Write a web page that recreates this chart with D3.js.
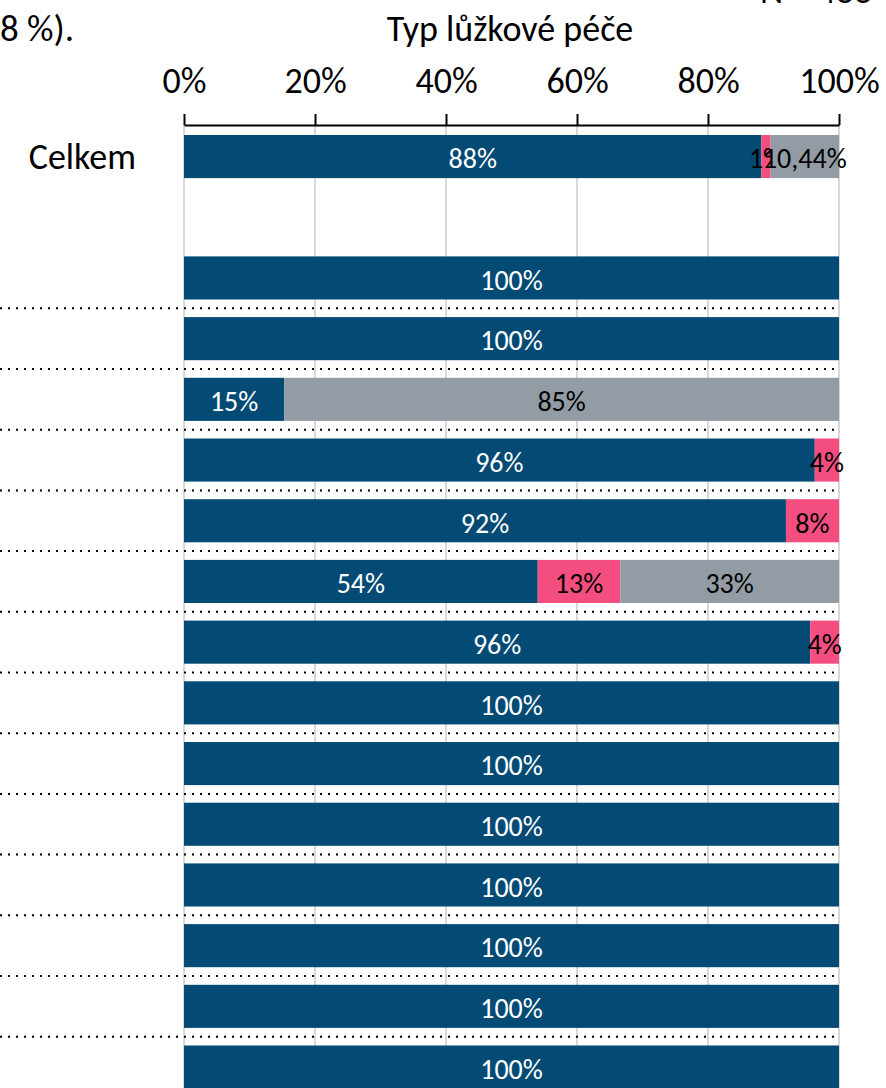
<!DOCTYPE html>
<html lang="cs">
<head>
    <meta charset="UTF-8">
    <title>Typ lůžkové péče</title>
    <script src="https://d3js.org/d3.v7.min.js"></script>
    <style>
        body{
            margin: 0;
            background: white;
        }
        svg text{
            font-family: Carlito, Calibri, Lato, sans-serif;
        }
        .grid line{
            stroke: #d9d9d9;
            stroke-width: 2px;
        }
        .dots{
            stroke: black;
            stroke-width: 2px;
            stroke-dasharray: 2 6;
        }
    </style>
</head>
<body>
    <svg id='canvas' width='886' height='1088'></svg>
    <script>
        // rows top to bottom; "" is the empty slot under Celkem
        let rows = ['Celkem', '', 'r1', 'r2', 'r3', 'r4', 'r5', 'r6', 'r7',
                    'r8', 'r9', 'r10', 'r11', 'r12', 'r13', 'r14'];
        let rowText = ['Celkem', '', '', '', '', '', '', '', '', '', '', '', '', '', '', ''];
        let series = ['blue', 'pink', 'grey'];
        let colors = ['#034a75', '#f44e80', '#939ca4'];
        let textColors = ['white', 'black', 'black'];

        let blueVals = [88.16, null, 100, 100, 15.3, 96.3, 91.9, 54, 95.6, 100, 100, 100, 100, 100, 100, 100];
        let pinkVals = [1.4, null, 0, 0, 0, 3.7, 8.1, 12.6, 4.4, 0, 0, 0, 0, 0, 0, 0];
        let greyVals = [10.44, null, 0, 0, 84.7, 0, 0, 33.4, 0, 0, 0, 0, 0, 0, 0, 0];
        // labels as printed (the Celkem grey share is shown with decimals)
        let celkemLabels = ['88%', '1%', '10,44%'];
        let ticks = [0, 20, 40, 60, 80, 100];

        let svg = d3.select('svg');

        let x = d3.scaleLinear().domain([0, 100]).range([184, 839]);
        let y = d3.scaleBand()
            .domain(rows)
            .range([126.2, 1097.4])
            .paddingInner(0.29)
            .paddingOuter(0.145);

        // texts on top
        svg.append('text').attr('x', 0).attr('y', 41)
            .attr('font-size', 37).text('8 %).');
        svg.append('text').attr('x', 510).attr('y', 41)
            .attr('text-anchor', 'middle').attr('font-size', 36)
            .text('Typ lůžkové péče');
        svg.append('text').attr('x', 760).attr('y', 3)
            .attr('font-size', 36).text('N = 488');

        // grid
        svg.append('g').attr('class', 'grid')
            .selectAll('line')
            .data(ticks)
            .join('line')
            .attr('x1', d => x(d)).attr('x2', d => x(d))
            .attr('y1', 125).attr('y2', 1088);

        // top axis
        let axis = svg.append('g')
            .attr('transform', 'translate(0,125)')
            .call(d3.axisTop(x).tickValues(ticks).tickSize(11).tickSizeOuter(0).tickFormat(d => d + '%'));
        axis.select('.domain').attr('stroke', 'black').attr('stroke-width', 2);
        axis.selectAll('.tick line').attr('stroke', 'black').attr('stroke-width', 2);
        axis.selectAll('.tick text')
            .attr('font-family', 'Carlito, Calibri, Lato, sans-serif')
            .attr('font-size', 36)
            .attr('fill', 'black')
            .attr('dy', 0)
            .attr('y', -32);

        // dotted separators between data rows
        let dataRows = rows.slice(2);
        let sepY = d => y(d) + y.bandwidth() + (y.step() - y.bandwidth()) / 2;
        svg.append('g')
            .selectAll('line')
            .data(dataRows.slice(0, -1))
            .join('line')
            .attr('class', 'dots')
            .attr('x1', 0).attr('x2', x(100))
            .attr('y1', sepY)
            .attr('y2', sepY);

        // stacked bars
        let table = rows.map((r, i) => ({row: r, blue: blueVals[i], pink: pinkVals[i], grey: greyVals[i]}))
            .filter(d => d.blue != null);
        let stacked = d3.stack().keys(series)(table);

        let layers = svg.append('g')
            .selectAll('g')
            .data(stacked)
            .join('g')
            .attr('fill', (d, i) => colors[i]);

        layers.selectAll('rect')
            .data((d, i) => d.filter(s => s.data[series[i]] > 0))
            .join('rect')
            .attr('x', d => x(d[0]))
            .attr('width', d => x(d[1]) - x(d[0]))
            .attr('y', d => y(d.data.row))
            .attr('height', y.bandwidth());

        function label(d){
            if(d.s.data.row == 'Celkem') return celkemLabels[d.i];
            return Math.round(d.s.data[series[d.i]]) + '%';
        }

        layers.selectAll('text')
            .data((d, i) => d.filter(s => s.data[series[i]] > 0).map(s => ({s: s, i: i})))
            .join('text')
            .attr('x', d => (x(d.s[0]) + x(d.s[1])) / 2)
            .attr('y', d => y(d.s.data.row) + y.bandwidth() / 2 + 2)
            .attr('dy', '0.35em')
            .attr('text-anchor', 'middle')
            .attr('font-size', 28)
            .attr('fill', d => textColors[d.i])
            .text(label);

        // row labels
        svg.append('g')
            .selectAll('text')
            .data(rows)
            .join('text')
            .attr('x', 136)
            .attr('y', d => y(d) + y.bandwidth() / 2)
            .attr('dy', '0.35em')
            .attr('text-anchor', 'end')
            .attr('font-size', 36)
            .text((d, i) => rowText[i]);
    </script>
</body>
</html>
